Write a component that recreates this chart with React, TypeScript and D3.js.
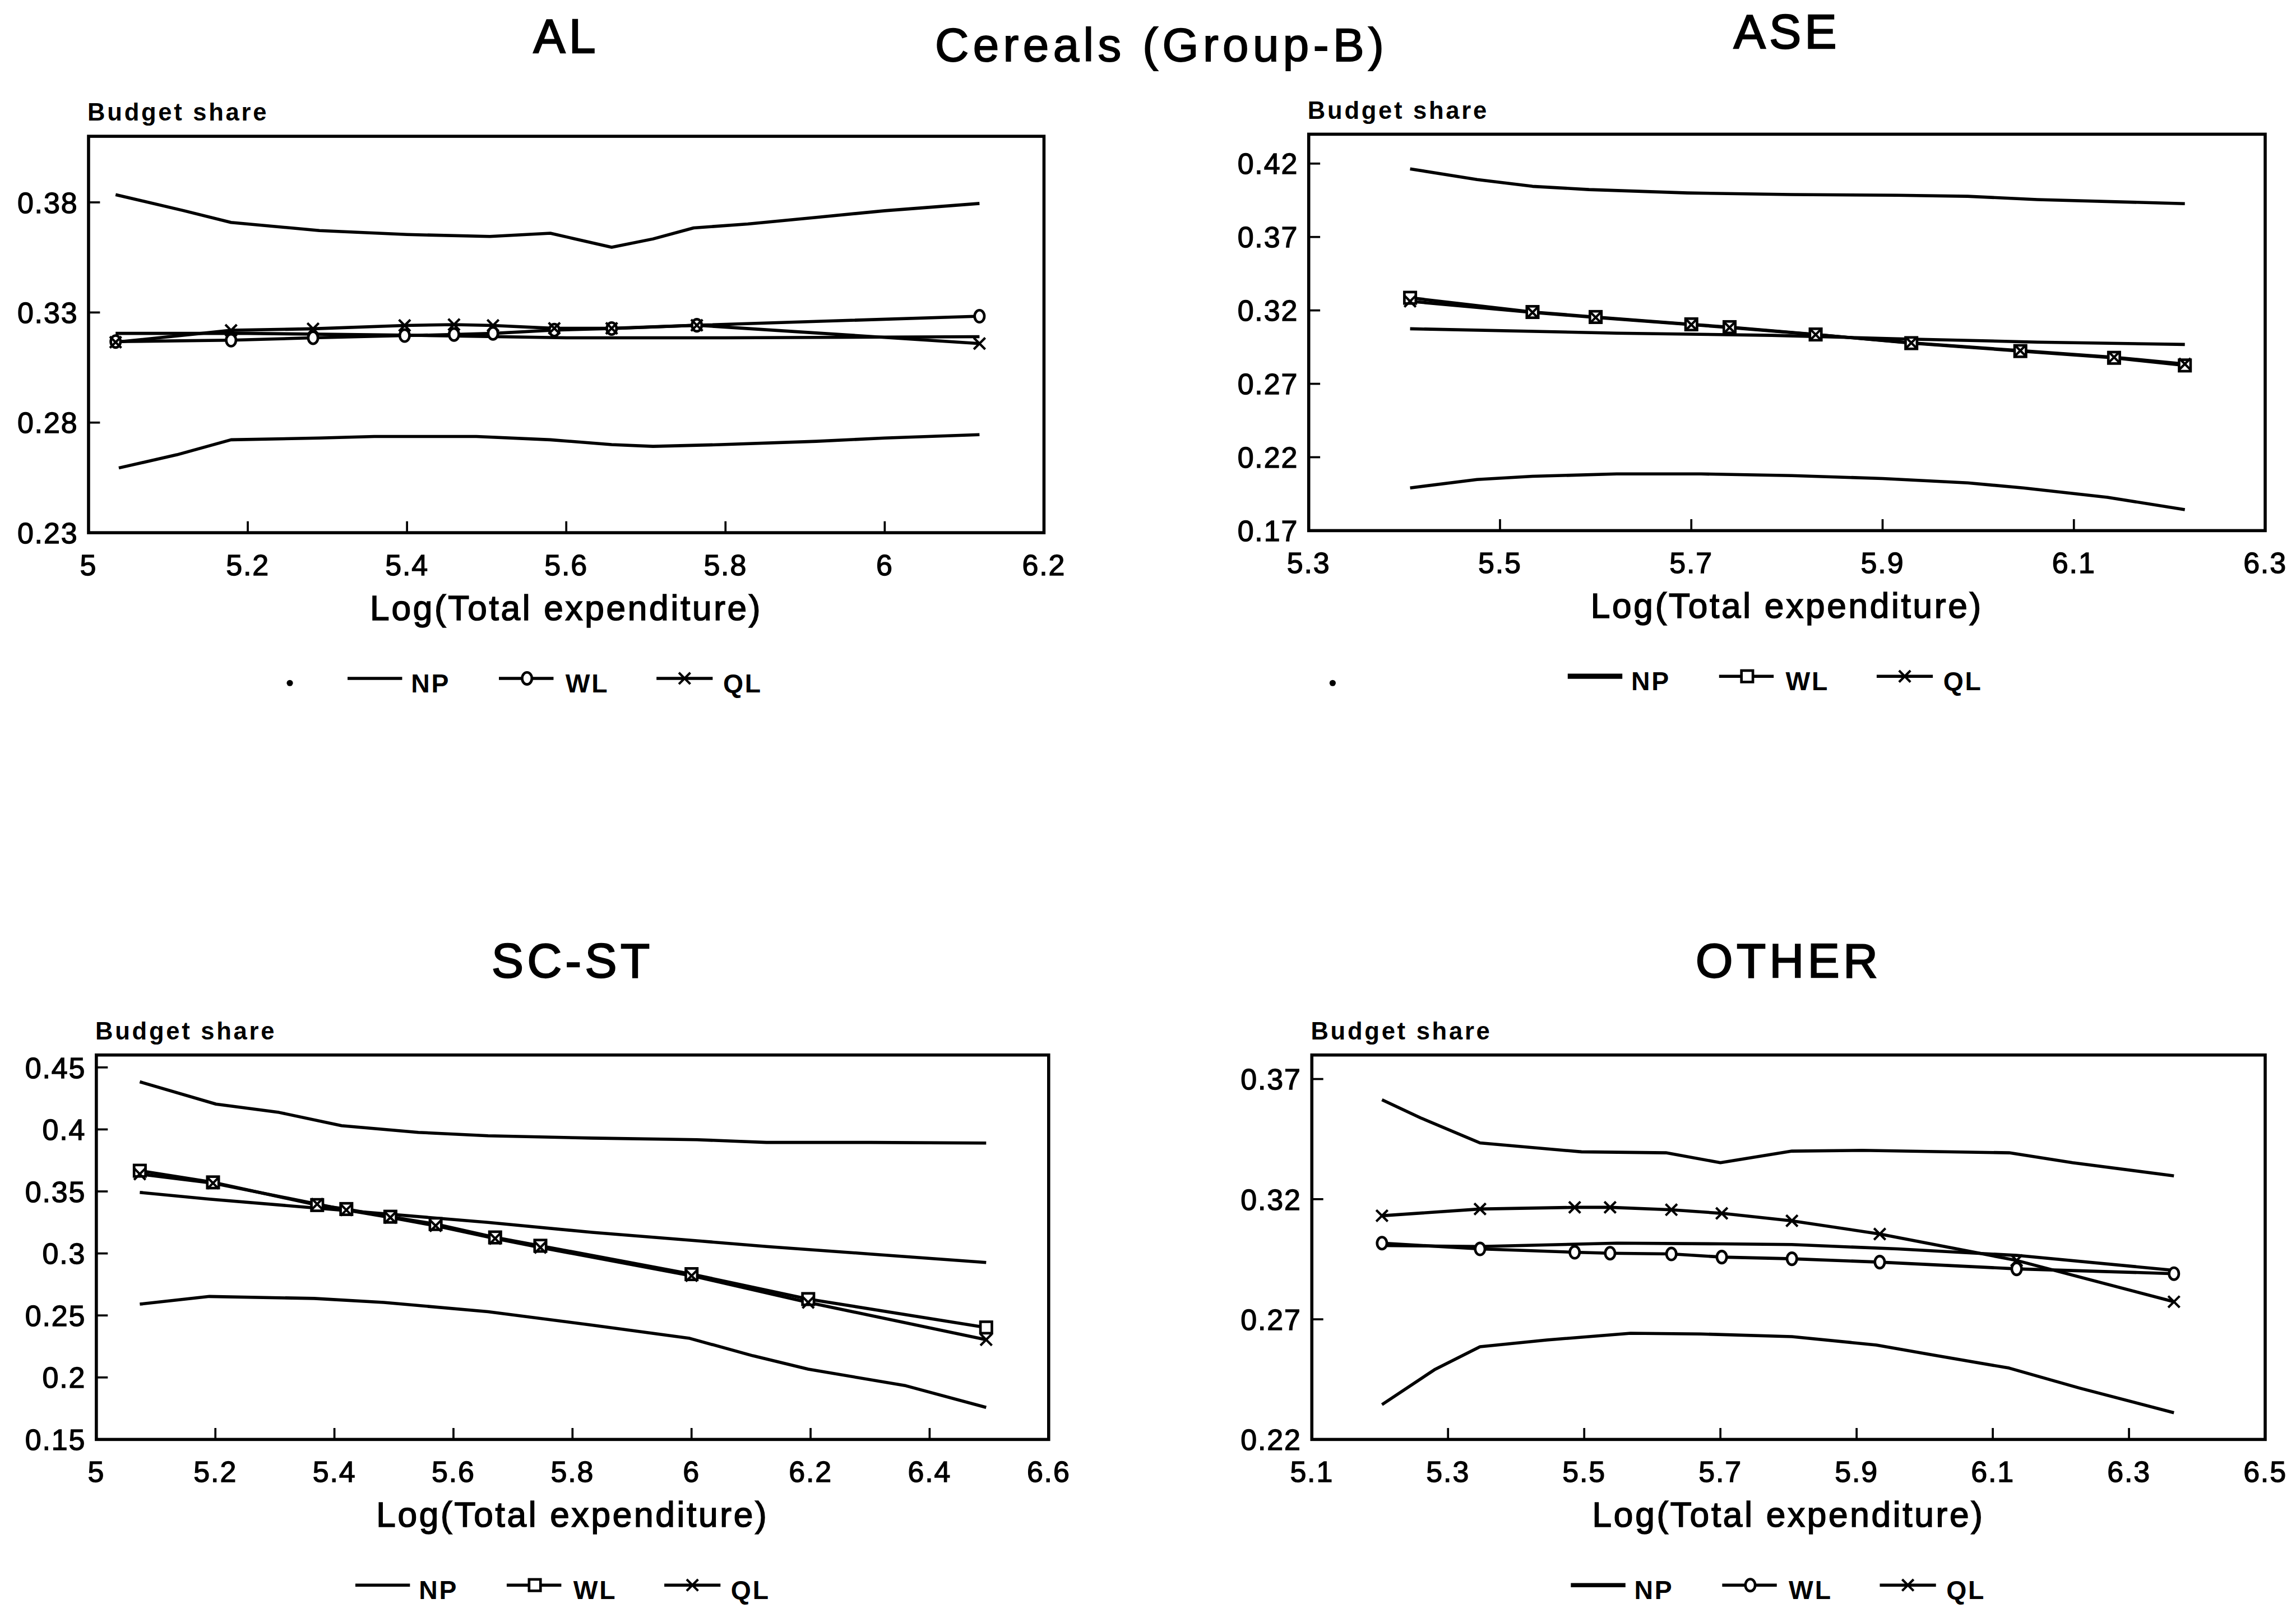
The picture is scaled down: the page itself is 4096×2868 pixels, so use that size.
import React from 'react';
import * as d3 from 'd3';

// ---------- DATA ----------
// AL
const alNpUpperX = [5.034, 5.12, 5.179, 5.29, 5.4, 5.504, 5.58, 5.657, 5.709, 5.76, 5.828, 5.914, 6.0, 6.119];
const alNpUpperY = [0.3835, 0.3762, 0.3709, 0.3672, 0.3654, 0.3645, 0.366, 0.3596, 0.3634, 0.3684, 0.3702, 0.3732, 0.3762, 0.3795];
const alNpMidX = [5.034, 5.2, 5.4, 5.6, 5.8, 6.0, 6.119];
const alNpMidY = [0.3205, 0.3205, 0.3197, 0.3185, 0.3185, 0.3188, 0.319];
const alNpLowerX = [5.038, 5.111, 5.179, 5.29, 5.359, 5.487, 5.58, 5.657, 5.709, 5.794, 5.914, 6.0, 6.119];
const alNpLowerY = [0.2594, 0.2654, 0.2722, 0.273, 0.2737, 0.2737, 0.2722, 0.27, 0.2692, 0.27, 0.2715, 0.273, 0.2745];
const alPtsX = [5.034, 5.179, 5.282, 5.397, 5.459, 5.508, 5.585, 5.657, 5.764, 6.119];
const alWlY = [0.3168, 0.3174, 0.3185, 0.3195, 0.32, 0.3205, 0.322, 0.3227, 0.3242, 0.3283];
const alQlY = [0.3165, 0.3219, 0.3226, 0.3241, 0.3245, 0.3241, 0.3228, 0.3228, 0.3242, 0.3159];
const alXTicks = ['5', '5.2', '5.4', '5.6', '5.8', '6', '6.2'];
const alYTicks = ['0.23', '0.28', '0.33', '0.38'];

// ASE
const aseNpUpperX = [5.406, 5.476, 5.534, 5.593, 5.696, 5.805, 5.915, 5.989, 6.062, 6.216];
const aseNpUpperY = [0.4164, 0.4091, 0.4045, 0.4023, 0.4, 0.3989, 0.3984, 0.3977, 0.3955, 0.3927];
const aseNpMidX = [5.406, 5.622, 5.784, 5.915, 6.062, 6.216];
const aseNpMidY = [0.3075, 0.3045, 0.303, 0.3007, 0.2984, 0.2968];
const aseNpLowerX = [5.406, 5.476, 5.534, 5.622, 5.71, 5.805, 5.9, 5.989, 6.047, 6.135, 6.216];
const aseNpLowerY = [0.1991, 0.2048, 0.207, 0.2086, 0.2086, 0.2075, 0.2055, 0.2025, 0.1991, 0.1927, 0.1843];
const asePtsX = [5.406, 5.534, 5.6, 5.7, 5.74, 5.83, 5.93, 6.044, 6.142, 6.216];
const aseWlY = [0.3286, 0.3189, 0.3155, 0.3105, 0.3086, 0.3036, 0.2977, 0.2923, 0.2877, 0.2825];
const aseQlY = [0.3262, 0.3186, 0.3152, 0.3103, 0.3083, 0.3035, 0.2979, 0.2926, 0.2881, 0.2835];
const aseXTicks = ['5.3', '5.5', '5.7', '5.9', '6.1', '6.3'];
const aseYTicks = ['0.17', '0.22', '0.27', '0.32', '0.37', '0.42'];

// SC-ST
const scNpUpperX = [5.073, 5.201, 5.307, 5.412, 5.541, 5.658, 5.833, 6.009, 6.126, 6.301, 6.495];
const scNpUpperY = [0.4384, 0.4204, 0.4137, 0.403, 0.3976, 0.3949, 0.393, 0.3917, 0.3895, 0.3895, 0.389];
const scNpMidX = [5.073, 5.19, 5.424, 5.658, 5.833, 6.009, 6.126, 6.301, 6.495];
const scNpMidY = [0.3492, 0.3438, 0.3344, 0.325, 0.317, 0.3102, 0.3056, 0.2995, 0.2927];
const scNpLowerX = [5.073, 5.19, 5.366, 5.483, 5.658, 5.833, 5.997, 6.103, 6.196, 6.36, 6.495];
const scNpLowerY = [0.2591, 0.2653, 0.2637, 0.2605, 0.253, 0.2422, 0.2315, 0.2175, 0.2067, 0.1933, 0.1758];
const scPtsX = [5.073, 5.196, 5.371, 5.42, 5.494, 5.57, 5.67, 5.746, 6.0, 6.196, 6.495];
const scWlY = [0.3667, 0.3573, 0.339, 0.3358, 0.3296, 0.3237, 0.3129, 0.3062, 0.2833, 0.2632, 0.2403];
const scQlY = [0.364, 0.3567, 0.3398, 0.335, 0.329, 0.3223, 0.312, 0.3048, 0.282, 0.2605, 0.2304];
const scXTicks = ['5', '5.2', '5.4', '5.6', '5.8', '6', '6.2', '6.4', '6.6'];
const scYTicks = ['0.15', '0.2', '0.25', '0.3', '0.35', '0.4', '0.45'];

// OTHER
const otNpUpperX = [5.203, 5.26, 5.347, 5.496, 5.62, 5.7, 5.805, 5.908, 6.124, 6.217, 6.366];
const otNpUpperY = [0.3614, 0.3538, 0.3434, 0.3397, 0.3393, 0.3352, 0.34, 0.3403, 0.3393, 0.3352, 0.3297];
const otNpMidX = [5.203, 5.347, 5.548, 5.702, 5.805, 5.96, 6.135, 6.366];
const otNpMidY = [0.3007, 0.3003, 0.3017, 0.3014, 0.3011, 0.2993, 0.2966, 0.2904];
const otNpLowerX = [5.203, 5.28, 5.347, 5.445, 5.568, 5.671, 5.805, 5.929, 6.011, 6.124, 6.227, 6.366];
const otNpLowerY = [0.2345, 0.249, 0.2586, 0.2614, 0.2642, 0.2639, 0.2628, 0.2593, 0.2552, 0.2497, 0.2414, 0.2311];
const otPtsX = [5.203, 5.347, 5.486, 5.538, 5.628, 5.702, 5.805, 5.934, 6.135, 6.366];
const otWlY = [0.3017, 0.2993, 0.2979, 0.2975, 0.2972, 0.2959, 0.2952, 0.2938, 0.291, 0.289];
const otQlY = [0.3131, 0.3159, 0.3166, 0.3166, 0.3156, 0.3141, 0.311, 0.3055, 0.2945, 0.2773];
const otXTicks = ['5.1', '5.3', '5.5', '5.7', '5.9', '6.1', '6.3', '6.5'];
const otYTicks = ['0.22', '0.27', '0.32', '0.37'];

const seriesNames = ['NP', 'WL', 'QL'];
const mainTitle = 'Cereals (Group-B)';
const yLabel = 'Budget share';
const xLabel = 'Log(Total expenditure)';

// ---------- LAYOUT (reference pixel units) ----------
const RW = 4414;
const RH = 3091;
const FONT = '"Liberation Sans", Arial, Helvetica, sans-serif';

type Box = { x0: number; x1: number; y0: number; y1: number };
type PanelDef = {
  title: string;
  titleY: number;
  box: Box;
  xDomain: [number, number];
  yDomain: [number, number];
  xTicks: string[];
  yTicks: string[];
  np: [number[], number[]][];
  ptsX: number[];
  wlY: number[];
  qlY: number[];
  wlMarker: 'circle' | 'square';
  legendNpW: number;
  legendDot?: [number, number];
};

const panels: PanelDef[] = [
  {
    title: 'AL', titleY: 101,
    box: { x0: 170, x1: 2007, y0: 262, y1: 1024 },
    xDomain: [5, 6.2], yDomain: [0.23, 0.41],
    xTicks: alXTicks, yTicks: alYTicks,
    np: [[alNpUpperX, alNpUpperY], [alNpMidX, alNpMidY], [alNpLowerX, alNpLowerY]],
    ptsX: alPtsX, wlY: alWlY, qlY: alQlY, wlMarker: 'circle', legendNpW: 6,
    legendDot: [557, 1313],
  },
  {
    title: 'ASE', titleY: 93,
    box: { x0: 2516, x1: 4355, y0: 258, y1: 1020 },
    xDomain: [5.3, 6.3], yDomain: [0.17, 0.44],
    xTicks: aseXTicks, yTicks: aseYTicks,
    np: [[aseNpUpperX, aseNpUpperY], [aseNpMidX, aseNpMidY], [aseNpLowerX, aseNpLowerY]],
    ptsX: asePtsX, wlY: aseWlY, qlY: aseQlY, wlMarker: 'square', legendNpW: 10,
    legendDot: [2562, 1313],
  },
  {
    title: 'SC-ST', titleY: 1878,
    box: { x0: 185, x1: 2016, y0: 2028, y1: 2767 },
    xDomain: [5, 6.6], yDomain: [0.15, 0.46],
    xTicks: scXTicks, yTicks: scYTicks,
    np: [[scNpUpperX, scNpUpperY], [scNpMidX, scNpMidY], [scNpLowerX, scNpLowerY]],
    ptsX: scPtsX, wlY: scWlY, qlY: scQlY, wlMarker: 'square', legendNpW: 6,
  },
  {
    title: 'OTHER', titleY: 1878,
    box: { x0: 2522, x1: 4355, y0: 2028, y1: 2767 },
    xDomain: [5.1, 6.5], yDomain: [0.22, 0.38],
    xTicks: otXTicks, yTicks: otYTicks,
    np: [[otNpUpperX, otNpUpperY], [otNpMidX, otNpMidY], [otNpLowerX, otNpLowerY]],
    ptsX: otPtsX, wlY: otWlY, qlY: otQlY, wlMarker: 'circle', legendNpW: 8,
  },
];

const LINE_W = 6;
const MK = 11;

function Marker({ kind, cx, cy }: { kind: 'circle' | 'square' | 'x'; cx: number; cy: number }) {
  if (kind === 'circle') {
    return <ellipse cx={cx} cy={cy} rx={MK * 0.85} ry={MK * 1.05} fill="white" stroke="black" strokeWidth={5} />;
  }
  if (kind === 'square') {
    return <rect x={cx - MK} y={cy - MK} width={MK * 2} height={MK * 2} fill="white" stroke="black" strokeWidth={5} />;
  }
  return (
    <path d={`M${cx - MK},${cy - MK}L${cx + MK},${cy + MK}M${cx - MK},${cy + MK}L${cx + MK},${cy - MK}`}
      stroke="black" strokeWidth={4.5} fill="none" />
  );
}

function Panel({ p }: { p: PanelDef }) {
  const { box } = p;
  const x = d3.scaleLinear().domain(p.xDomain).range([box.x0, box.x1]);
  const y = d3.scaleLinear().domain(p.yDomain).range([box.y1, box.y0]);
  const line = d3.line<[number, number]>().x((d) => x(d[0])).y((d) => y(d[1]));
  const zip = (xs: number[], ys: number[]) => xs.map((v, i) => [v, ys[i]] as [number, number]);
  const cx = (box.x0 + box.x1) / 2;
  const lgLine = box.y1 + 280;
  const lgText = box.y1 + 307;
  const L = box.x0;

  return (
    <g>
      <text x={cx} y={p.titleY} textAnchor="middle" fontSize={92} letterSpacing={7} fontFamily={FONT}
        stroke="black" strokeWidth={2.5}>{p.title}</text>
      <text x={box.x0 - 2} y={box.y0 - 30} fontSize={47} fontWeight="bold" letterSpacing={4} fontFamily={FONT}>{yLabel}</text>

      {/* data lines */}
      {p.np.map(([xs, ys], i) => (
        <path key={'np' + i} d={line(zip(xs, ys)) || ''} fill="none" stroke="black" strokeWidth={LINE_W} strokeLinejoin="round" />
      ))}
      <path d={line(zip(p.ptsX, p.wlY)) || ''} fill="none" stroke="black" strokeWidth={LINE_W} />
      <path d={line(zip(p.ptsX, p.qlY)) || ''} fill="none" stroke="black" strokeWidth={LINE_W} />
      {p.ptsX.map((v, i) => (
        <Marker key={'wl' + i} kind={p.wlMarker} cx={x(v)} cy={y(p.wlY[i])} />
      ))}
      {p.ptsX.map((v, i) => (
        <Marker key={'ql' + i} kind="x" cx={x(v)} cy={y(p.qlY[i])} />
      ))}

      {/* frame */}
      <rect x={box.x0} y={box.y0} width={box.x1 - box.x0} height={box.y1 - box.y0} fill="none" stroke="black" strokeWidth={6} />

      {/* y ticks */}
      {p.yTicks.map((t) => (
        <g key={'y' + t}>
          <line x1={box.x0} x2={box.x0 + 22} y1={y(+t)} y2={y(+t)} stroke="black" strokeWidth={4} />
          <text x={box.x0 - 20} y={y(+t)} dy="0.36em" textAnchor="end" fontSize={56} letterSpacing={2} fontFamily={FONT}
            stroke="black" strokeWidth={1.5}>{t}</text>
        </g>
      ))}
      {/* x ticks */}
      {p.xTicks.map((t, i) => (
        <g key={'x' + t}>
          {i > 0 && i < p.xTicks.length - 1 && (
            <line x1={x(+t)} x2={x(+t)} y1={box.y1} y2={box.y1 - 22} stroke="black" strokeWidth={4} />
          )}
          <text x={x(+t)} y={box.y1 + 82} textAnchor="middle" fontSize={56} letterSpacing={2} fontFamily={FONT}
            stroke="black" strokeWidth={1.5}>{t}</text>
        </g>
      ))}

      <text x={cx} y={box.y1 + 168} textAnchor="middle" fontSize={67} letterSpacing={4} fontFamily={FONT}
        stroke="black" strokeWidth={1.8}>{xLabel}</text>

      {/* legend */}
      {p.legendDot && <circle cx={p.legendDot[0]} cy={p.legendDot[1]} r={6} fill="black" />}
      <line x1={L + 498} x2={L + 603} y1={lgLine} y2={lgLine} stroke="black" strokeWidth={p.legendNpW} />
      <text x={L + 620} y={lgText} fontSize={50} fontWeight="bold" letterSpacing={3} fontFamily={FONT}>{seriesNames[0]}</text>
      <line x1={L + 789} x2={L + 894} y1={lgLine} y2={lgLine} stroke="black" strokeWidth={6} />
      <Marker kind={p.wlMarker} cx={L + 843} cy={lgLine} />
      <text x={L + 917} y={lgText} fontSize={50} fontWeight="bold" letterSpacing={3} fontFamily={FONT}>{seriesNames[1]}</text>
      <line x1={L + 1092} x2={L + 1200} y1={lgLine} y2={lgLine} stroke="black" strokeWidth={6} />
      <Marker kind="x" cx={L + 1146} cy={lgLine} />
      <text x={L + 1220} y={lgText} fontSize={50} fontWeight="bold" letterSpacing={3} fontFamily={FONT}>{seriesNames[2]}</text>
    </g>
  );
}

export default function App() {
  return (
    <svg
      width={4096}
      height={2868}
      viewBox={`0 0 ${RW} ${RH}`}
      style={{ position: 'absolute', left: 0, top: 0, background: 'white' }}
    >
      <rect x={0} y={0} width={RW} height={RH} fill="white" />
      <text x={2233} y={118} textAnchor="middle" fontSize={90} letterSpacing={8} fontFamily={FONT}
        stroke="black" strokeWidth={2}>{mainTitle}</text>
      {panels.map((p) => <Panel key={p.title} p={p} />)}
    </svg>
  );
}
